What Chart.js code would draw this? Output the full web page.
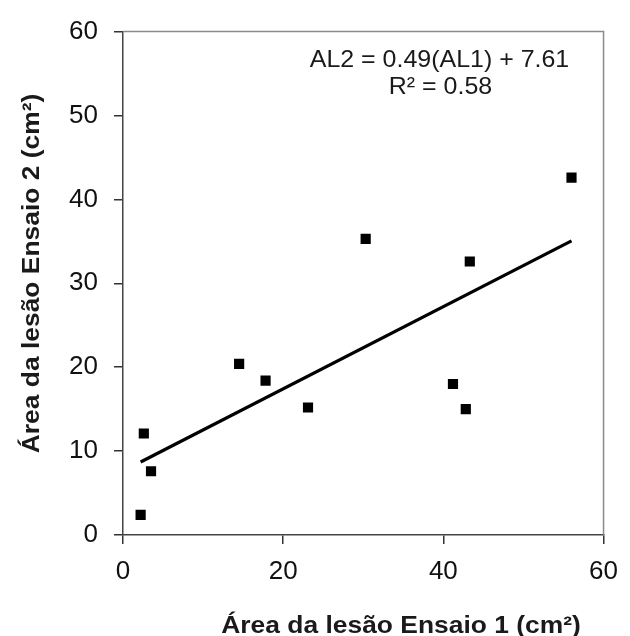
<!DOCTYPE html>
<html>
<head>
<meta charset="utf-8">
<script src="https://cdn.jsdelivr.net/npm/chart.js@4.4.0/dist/chart.umd.min.js"></script>
<style>
  html, body { margin: 0; padding: 0; background: #ffffff; }
  #wrap { width: 630px; height: 636px; }
</style>
</head>
<body>
<div id="wrap"><canvas id="c" width="630" height="636"></canvas></div>
<script>
// ---- data ----
const ensaio1 = [2.2, 2.6, 3.5, 14.5, 17.8, 23.1, 30.3, 41.2, 42.8, 43.3, 56.0];
const ensaio2 = [2.4, 12.1, 7.6, 20.4, 18.4, 15.2, 35.3, 18.0, 15.0, 32.6, 42.6];
const trendX = [2.2, 56.0];
const trendY = [8.7, 35.05];
const xTickValues = [0, 20, 40, 60];
const yTickValues = [0, 10, 20, 30, 40, 50, 60];
const xTitle = 'Área da lesão Ensaio 1 (cm²)';
const yTitle = 'Área da lesão Ensaio 2 (cm²)';
const equationLines = ['AL2 = 0.49(AL1) + 7.61', 'R² = 0.58'];

const FONT = "'Liberation Sans', Arial, Helvetica, sans-serif";

const pointsData = ensaio1.map((x, i) => ({ x: x, y: ensaio2[i] }));
const trendData = trendX.map((x, i) => ({ x: x, y: trendY[i] }));

function drawStretched(ctx, text, x, y, sx, align) {
  ctx.save();
  ctx.translate(x, y);
  ctx.scale(sx, 1);
  ctx.textAlign = align || 'center';
  ctx.fillText(text, 0, 0);
  ctx.restore();
}

const decorations = {
  id: 'decorations',
  afterDraw(chart) {
    const ctx = chart.ctx;
    const a = chart.chartArea;
    ctx.save();
    // frame: top and right lines
    ctx.strokeStyle = '#8a8a8a';
    ctx.lineWidth = 1.5;
    ctx.beginPath();
    ctx.moveTo(a.left, a.top);
    ctx.lineTo(a.right, a.top);
    ctx.lineTo(a.right, a.bottom);
    ctx.stroke();

    ctx.fillStyle = '#1a1a1a';
    ctx.textBaseline = 'alphabetic';
    // x axis title
    ctx.font = 'bold 24px ' + FONT;
    drawStretched(ctx, xTitle, 401, 633, 1.1, 'center');
    // y axis title
    ctx.save();
    ctx.translate(39, 273.5);
    ctx.rotate(-Math.PI / 2);
    drawStretched(ctx, yTitle, 0, 0, 1.1, 'center');
    ctx.restore();
    // equation
    ctx.font = '24px ' + FONT;
    drawStretched(ctx, equationLines[0], 439.5, 66.5, 1.04, 'center');
    drawStretched(ctx, equationLines[1], 440.5, 93.5, 1.04, 'center');
    ctx.restore();
  }
};

new Chart(document.getElementById('c'), {
  type: 'scatter',
  data: {
    datasets: [
      {
        type: 'line',
        label: 'trend',
        data: trendData,
        borderColor: '#000000',
        borderWidth: 3.2,
        pointRadius: 0,
        fill: false,
        tension: 0,
        order: 2
      },
      {
        label: 'pontos',
        data: pointsData,
        pointStyle: 'rect',
        pointRadius: 7.2,
        pointHoverRadius: 7.2,
        backgroundColor: '#000000',
        borderColor: '#000000',
        borderWidth: 0,
        order: 1
      }
    ]
  },
  options: {
    responsive: false,
    animation: false,
    events: [],
    layout: { padding: { top: 26, right: 20, bottom: 0, left: 0 } },
    plugins: {
      legend: { display: false },
      tooltip: { enabled: false },
      title: { display: false }
    },
    scales: {
      x: {
        type: 'linear',
        position: 'bottom',
        min: 0,
        max: 60,
        afterBuildTicks: s => { s.ticks = xTickValues.map(v => ({ value: v })); },
        afterFit: s => { s.height = 101; },
        grid: { drawOnChartArea: false, drawTicks: true, tickLength: 9, color: '#333333', lineWidth: 1.5 },
        border: { display: true, color: '#444444', width: 1.5 },
        ticks: { font: { family: FONT, size: 26 }, color: '#111111', padding: 12, maxRotation: 0, autoSkip: false }
      },
      y: {
        type: 'linear',
        position: 'left',
        min: 0,
        max: 60,
        afterBuildTicks: s => { s.ticks = yTickValues.map(v => ({ value: v })); },
        afterFit: s => { s.width = 123; },
        grid: { drawOnChartArea: false, drawTicks: true, tickLength: 9, color: '#333333', lineWidth: 1.5 },
        border: { display: true, color: '#444444', width: 1.5 },
        ticks: { font: { family: FONT, size: 26 }, color: '#111111', padding: 16, autoSkip: false }
      }
    }
  },
  plugins: [decorations]
});
</script>
</body>
</html>
